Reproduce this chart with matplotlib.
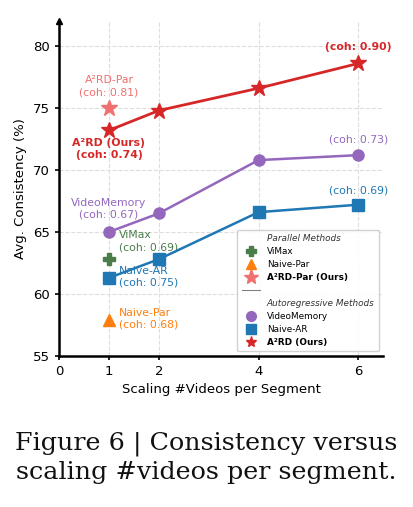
import matplotlib
matplotlib.use("Agg")
import matplotlib.pyplot as plt
from matplotlib.lines import Line2D

# data
x_ar = [1, 2, 4, 6]
a2rd = [73.2, 74.8, 76.6, 78.6]
video_memory = [65.0, 66.5, 70.8, 71.2]
naive_ar = [61.3, 62.8, 66.6, 67.2]

x_par = 1
a2rd_par = 75.0
vimax = 62.8
naive_par = 57.9

xticks = [0, 1, 2, 4, 6]
yticks = [55, 60, 65, 70, 75, 80]

RED = '#d62728'
LRED = '#f07070'
PURPLE = '#9467bd'
BLUE = '#1f77b4'
GREEN = '#4a7d4a'
ORANGE = '#ff7f0e'

fig = plt.figure(figsize=(4.13, 5.07), dpi=100)
ax = fig.add_axes([0.143, 0.298, 0.785, 0.66])

ax.plot(x_ar, a2rd, color=RED, lw=2, marker='*', ms=12, zorder=5)
ax.plot(x_ar, video_memory, color=PURPLE, lw=1.8, marker='o', ms=8, zorder=4)
ax.plot(x_ar, naive_ar, color=BLUE, lw=1.8, marker='s', ms=8, zorder=4)
ax.plot([x_par], [a2rd_par], color=LRED, marker='*', ms=12, ls='none', zorder=5)
ax.plot([x_par], [vimax], color=GREEN, marker='P', ms=9, ls='none', zorder=5)
ax.plot([x_par], [naive_par], color=ORANGE, marker='^', ms=9, ls='none', zorder=5)

fs = 7.8
def note(txt, xy, off, color, ha='center', va='bottom', bold=False):
    ax.annotate(txt, xy=xy, xytext=off, textcoords='offset pixels',
                ha=ha, va=va, color=color, fontsize=fs,
                fontweight='bold' if bold else 'normal')

note('A²RD-Par\n(coh: 0.81)', (x_par, a2rd_par), (0, 11), LRED)
note('A²RD (Ours)\n(coh: 0.74)', (x_ar[0], a2rd[0]), (0, -8), RED, va='top', bold=True)
note('(coh: 0.90)', (x_ar[-1], a2rd[-1]), (0, 11), RED, bold=True)
note('(coh: 0.73)', (x_ar[-1], video_memory[-1]), (0, 11), PURPLE)
note('(coh: 0.69)', (x_ar[-1], naive_ar[-1]), (0, 9), BLUE)
note('VideoMemory\n(coh: 0.67)', (x_ar[0], video_memory[0]), (0, 12), PURPLE)
note('ViMax\n(coh: 0.69)', (x_par, vimax), (10, 18), GREEN, ha='left', va='center')
note('Naive-AR\n(coh: 0.75)', (x_ar[0], naive_ar[0]), (10, 1), BLUE, ha='left', va='center')
note('Naive-Par\n(coh: 0.68)', (x_par, naive_par), (10, 1), ORANGE, ha='left', va='center')

ax.set_xlim(0, 6.5)
ax.set_ylim(55, 82)
ax.set_xticks(xticks)
ax.set_yticks(yticks)
ax.tick_params(labelsize=9.5, width=1.2, length=3)
ax.set_xlabel('Scaling #Videos per Segment', fontsize=9.5, labelpad=4)
ax.set_ylabel('Avg. Consistency (%)', fontsize=9.5, labelpad=4)
ax.grid(True, ls='--', color='#dddddd', lw=0.8)
ax.set_axisbelow(True)
for s in ['top', 'right']:
    ax.spines[s].set_visible(False)
for s in ['left', 'bottom']:
    ax.spines[s].set_linewidth(1.8)
ax.plot(1, 0, '>k', ms=4, transform=ax.get_yaxis_transform(), clip_on=False)
ax.plot(0, 1, '^k', ms=4, transform=ax.get_xaxis_transform(), clip_on=False)

blank = Line2D([], [], ls='none')
handles = [
    blank,
    Line2D([], [], ls='none', marker='P', color=GREEN, ms=7),
    Line2D([], [], ls='none', marker='^', color=ORANGE, ms=7),
    Line2D([], [], ls='none', marker='*', color=LRED, ms=11),
    Line2D([], [], color='gray', lw=0.8),
    blank,
    Line2D([], [], ls='none', marker='o', color=PURPLE, ms=7),
    Line2D([], [], ls='none', marker='s', color=BLUE, ms=7),
    Line2D([], [], ls='none', marker='*', color=RED, ms=8),
]
labels = ['Parallel Methods', 'ViMax', 'Naive-Par', 'A²RD-Par (Ours)', '',
          'Autoregressive Methods', 'VideoMemory', 'Naive-AR', 'A²RD (Ours)']
leg = ax.legend(handles, labels, loc='lower right', fontsize=6.4,
                handlelength=2, labelspacing=0.45, borderpad=0.5,
                framealpha=0.9, edgecolor='#cccccc', fancybox=True)
for t in leg.get_texts():
    if t.get_text() in ('Parallel Methods', 'Autoregressive Methods'):
        t.set_fontstyle('italic')
        t.set_color('#333333')
    if 'Ours' in t.get_text():
        t.set_fontweight('bold')

fig.text(0.5, 0.097, 'Figure 6 | Consistency versus\nscaling #videos per segment.',
         ha='center', va='center', family='DejaVu Serif', fontsize=18.3,
         linespacing=1.25, color='#111111')

fig.savefig('out.png', dpi=100)
